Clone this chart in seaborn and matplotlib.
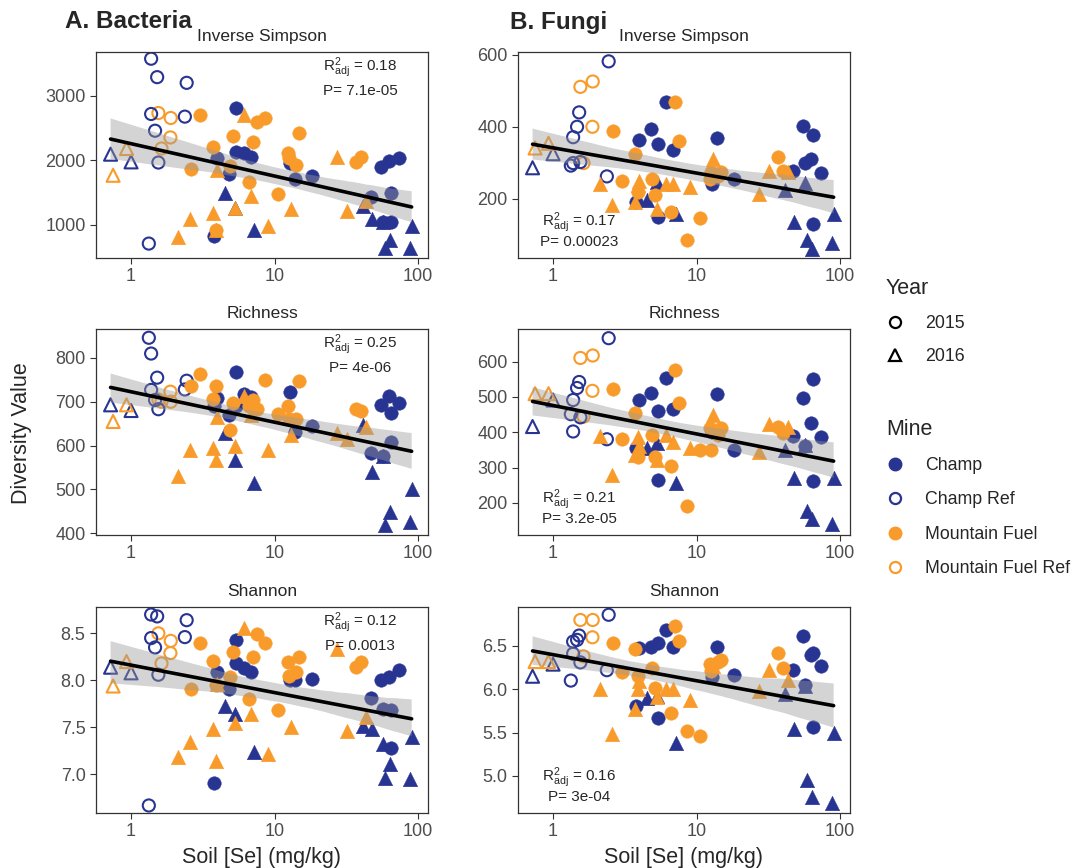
import numpy as np
import pandas as pd
import matplotlib
matplotlib.use('Agg')
import matplotlib.pyplot as plt
import seaborn as sns
from matplotlib.lines import Line2D
from matplotlib.ticker import FixedLocator, NullLocator

sns.set_style('white')
plt.rcParams['font.family'] = ['Liberation Sans', 'DejaVu Sans']
plt.rcParams['mathtext.fontset'] = 'custom'
plt.rcParams['mathtext.rm'] = 'Liberation Sans'
plt.rcParams['mathtext.it'] = 'Liberation Sans:italic'

# --- DATA ---
mine = (['Champ Ref'] * 2 + ['Mountain Fuel Ref'] * 2 + ['Mountain Fuel Ref'] * 4 + ['Champ Ref'] * 8
        + ['Champ'] * 17 + ['Champ'] * 10 + ['Mountain Fuel'] * 17 + ['Mountain Fuel'] * 13)
year = (['2016'] * 2 + ['2016'] * 2 + ['2015'] * 4 + ['2015'] * 8
        + ['2015'] * 17 + ['2016'] * 10 + ['2015'] * 17 + ['2016'] * 13)

se = [0.72, 1.0, 0.75, 0.93, 1.55, 1.63, 1.88, 1.89, 1.33, 1.38, 1.38, 1.47, 1.52, 1.55, 2.37, 2.44,
      3.8, 3.95, 4.83, 5.35, 5.35, 6.1, 6.85, 12.8, 13.8, 18.1, 47, 55, 57, 63, 65, 65, 73,
      4.5, 5.3, 7.2, 41, 48, 57, 59, 64, 87, 90,
      2.6, 3.02, 3.7, 3.9, 4.9, 5.1, 6.6, 7.1, 7.56, 8.6, 10.6, 12.3, 12.6, 14.2, 14.8, 37, 40.2,
      2.13, 2.57, 3.7, 3.9, 3.95, 5.3, 6.1, 6.9, 9.0, 12.9, 27.4, 32, 43.6]

bac_invsimp = [2093, 1974, 1767, 2181, 2730, 2181, 2352, 2653, 710, 3570, 2715, 2456, 3285, 1964, 2674, 3197,
               824, 2041, 1782, 2808, 2130, 2109, 2057, 1964, 1715, 1756, 1435, 1902, 1041, 1990, 1487, 1041, 2041,
               1487, 1264, 927, 1290, 1083, 1041, 642, 772, 642, 979,
               1870, 2700, 2212, 917, 1912, 2368, 1663, 2275, 2596, 2648, 1471, 2119, 2041, 1922, 2415, 1974, 2057,
               813, 1093, 1176, 917, 1850, 1264, 2700, 1446, 979, 1238, 2057, 1212, 1368]
bac_rich = [693, 680, 655, 693, 705, 700, 723, 700, 846, 810, 727, 704, 755, 683, 728, 748,
            690, 708, 670, 768, 690, 718, 710, 723, 632, 645, 583, 693, 576, 712, 675, 608, 698,
            629, 568, 514, 648, 540, 576, 419, 449, 425, 502,
            736, 763, 706, 736, 636, 697, 690, 704, 683, 750, 672, 690, 660, 660, 748, 683, 678,
            530, 589, 595, 568, 666, 598, 712, 670, 589, 625, 629, 614, 642]
bac_shannon = [8.14, 8.08, 7.94, 8.20, 8.50, 8.18, 8.29, 8.42, 6.67, 8.70, 8.45, 8.35, 8.68, 8.06, 8.46, 8.64,
               6.91, 8.09, 7.91, 8.43, 8.18, 8.13, 8.09, 8.00, 8.00, 8.01, 7.81, 8.00, 7.70, 8.04, 7.68, 7.28, 8.11,
               7.73, 7.64, 7.24, 7.51, 7.48, 7.32, 6.96, 7.11, 6.95, 7.40,
               7.91, 8.40, 8.21, 7.95, 8.04, 8.30, 7.80, 8.25, 8.49, 8.40, 7.68, 8.19, 8.05, 8.09, 8.25, 8.14, 8.19,
               7.19, 7.35, 7.48, 7.14, 7.96, 7.55, 8.56, 7.64, 7.22, 7.50, 8.33, 7.46, 7.61]
fun_invsimp = [286, 325, 341, 354, 511, 299, 400, 526, 292, 371, 299, 400, 440, 302, 262, 582,
               190, 364, 394, 351, 149, 468, 336, 240, 369, 255, 276, 403, 300, 311, 378, 129, 271,
               195, 246, 158, 223, 135, 243, 84, 61, 77, 158,
               389, 250, 325, 218, 255, 209, 163, 468, 360, 86, 145, 255, 274, 262, 274, 317, 277,
               242, 182, 191, 237, 250, 172, 242, 242, 232, 311, 214, 278, 274]
fun_rich = [416, 491, 509, 509, 610, 444, 517, 617, 451, 491, 402, 525, 542, 442, 380, 666,
            355, 491, 511, 461, 265, 554, 467, 400, 509, 350, 390, 498, 360, 427, 551, 262, 386,
            355, 369, 257, 350, 271, 364, 178, 154, 140, 271,
            523, 380, 453, 330, 393, 330, 304, 577, 483, 190, 349, 411, 349, 393, 411, 414, 397,
            390, 280, 334, 386, 360, 322, 393, 371, 355, 449, 343, 423, 414]
fun_shannon = [6.15, 6.29, 6.32, 6.32, 6.80, 6.38, 6.60, 6.80, 6.10, 6.55, 6.41, 6.57, 6.62, 6.31, 6.22, 6.86,
               5.81, 6.48, 6.49, 6.53, 5.67, 6.69, 6.49, 6.14, 6.49, 6.16, 6.22, 6.61, 6.05, 6.39, 6.42, 5.56, 6.27,
               5.90, 5.92, 5.38, 5.95, 5.54, 6.04, 4.95, 4.76, 4.68, 5.50,
               6.53, 6.20, 6.46, 6.15, 6.25, 6.01, 5.73, 6.73, 6.56, 5.52, 5.46, 6.29, 6.21, 6.31, 6.34, 6.42, 6.24,
               6.00, 5.48, 5.77, 6.00, 6.10, 5.91, 6.00, 6.00, 5.87, 6.27, 5.98, 6.22, 6.11]

stats_r2 = ['0.18', '0.25', '0.12', '0.17', '0.21', '0.16']
stats_p = ['7.1e-05', '4e-06', '0.0013', '0.00023', '3.2e-05', '3e-04']

df = pd.DataFrame({'se': se, 'mine': mine, 'year': year,
                   'bac_invsimp': bac_invsimp, 'bac_rich': bac_rich, 'bac_shannon': bac_shannon,
                   'fun_invsimp': fun_invsimp, 'fun_rich': fun_rich, 'fun_shannon': fun_shannon})

# --- STYLE ---
navy = '#283492'
orange = '#F99B2A'
mine_colors = {'Champ': navy, 'Champ Ref': navy, 'Mountain Fuel': orange, 'Mountain Fuel Ref': orange}
open_mines = ['Champ Ref', 'Mountain Fuel Ref']
year_markers = {'2015': 'o', '2016': '^'}

W, H = 1073, 868
fig = plt.figure(figsize=(W / 100, H / 100), dpi=100)

col_left = [96, 518]
row_top = [52, 329, 607]
ax_w, ax_h = 332, 206

panels = [
    # col, row, column name, title, ylim, yticks
    (0, 0, 'bac_invsimp', 'Inverse Simpson', (487, 3674), [1000, 2000, 3000]),
    (0, 1, 'bac_rich', 'Richness', (396, 866), [400, 500, 600, 700, 800]),
    (0, 2, 'bac_shannon', 'Shannon', (6.59, 8.78), [7.0, 7.5, 8.0, 8.5]),
    (1, 0, 'fun_invsimp', 'Inverse Simpson', (35, 608), [200, 400, 600]),
    (1, 1, 'fun_rich', 'Richness', (109, 692), [200, 300, 400, 500, 600]),
    (1, 2, 'fun_shannon', 'Shannon', (4.57, 6.95), [5.0, 5.5, 6.0, 6.5]),
]

for i, (col, row, metric, title, ylim, yticks) in enumerate(panels):
    ax = fig.add_axes([col_left[col] / W, 1 - (row_top[row] + ax_h) / H, ax_w / W, ax_h / H])
    ax.set_xscale('log')

    # points, one group at a time (filled or open)
    for (m, yr), g in df.groupby(['mine', 'year'], sort=False):
        c = mine_colors[m]
        mk = year_markers[yr]
        size = 110 if mk == '^' else 95
        if m in open_mines:
            sns.scatterplot(data=g, x='se', y=metric, ax=ax, marker=mk, s=size * 0.8,
                            color=c, facecolor='none', edgecolor=c, linewidth=1.5)
        else:
            sns.scatterplot(data=g, x='se', y=metric, ax=ax, marker=mk, s=size,
                            color=c, edgecolor=c, linewidth=0.3)

    # linear fit on log10(Se) with confidence band drawn over the points
    sns.regplot(data=df, x='se', y=metric, ax=ax, logx=True, scatter=False, color='black',
                n_boot=1000, seed=7, line_kws={'linewidth': 2.6})
    band = ax.collections[-1]
    band.set_alpha(None)
    band.set_facecolor((0.6, 0.6, 0.6, 0.42))
    band.set_edgecolor('none')
    band.set_zorder(2.5)
    ax.lines[-1].set_zorder(3)

    ax.set_xlim(0.57, 117)
    ax.set_ylim(*ylim)
    ax.xaxis.set_major_locator(FixedLocator([1, 10, 100]))
    ax.xaxis.set_minor_locator(NullLocator())
    ax.set_xticklabels(['1', '10', '100'])
    ax.set_yticks(yticks)
    ax.set_xlabel('')
    ax.set_ylabel('')
    ax.set_title(title, fontsize=12.5, pad=8)
    for s in ax.spines.values():
        s.set_color('#333333')
        s.set_linewidth(0.9)
    ax.tick_params(direction='out', length=4, width=0.8, color='#333333',
                   labelsize=13, labelcolor='#4D4D4D', bottom=True, left=True)
    ax.grid(False)

    r2_txt = r'$\mathrm{R}^2_{\mathrm{adj}}$ = ' + stats_r2[i]
    p_txt = 'P= ' + stats_p[i]
    if col == 0:
        ax.text(0.795, 0.925, r2_txt, transform=ax.transAxes, ha='center', va='center', fontsize=11)
        ax.text(0.795, 0.81, p_txt, transform=ax.transAxes, ha='center', va='center', fontsize=11)
    else:
        ax.text(0.184, 0.172, r2_txt, transform=ax.transAxes, ha='center', va='center', fontsize=11)
        ax.text(0.184, 0.078, p_txt, transform=ax.transAxes, ha='center', va='center', fontsize=11)

# panel letters and shared labels
fig.text(65 / W, 1 - 22 / H, 'A. Bacteria', fontsize=17.5, fontweight='bold', va='center', ha='left')
fig.text(510 / W, 1 - 22 / H, 'B. Fungi', fontsize=17.5, fontweight='bold', va='center', ha='left')
fig.text(22 / W, 1 - 433 / H, 'Diversity Value', fontsize=15.5, rotation=90, va='center', ha='center')
fig.text(262 / W, 1 - 857 / H, 'Soil [Se] (mg/kg)', fontsize=15.5, va='center', ha='center')
fig.text(684 / W, 1 - 857 / H, 'Soil [Se] (mg/kg)', fontsize=15.5, va='center', ha='center')

# legends
year_handles = [Line2D([], [], ls='', marker=year_markers[y], markersize=8, markerfacecolor='none',
                       markeredgecolor='black', markeredgewidth=1.6) for y in ['2015', '2016']]
fig.legend(year_handles, ['2015', '2016'], title='Year', loc='upper left',
           bbox_to_anchor=(886 / W, 1 - 278 / H), frameon=False, alignment='left',
           fontsize=12.8, title_fontsize=15.5, handlelength=1.0, handletextpad=1.2,
           labelspacing=0.9, borderpad=0, borderaxespad=0)
mine_names = ['Champ', 'Champ Ref', 'Mountain Fuel', 'Mountain Fuel Ref']
mine_handles = []
for m in mine_names:
    c = mine_colors[m]
    if m in open_mines:
        mine_handles.append(Line2D([], [], ls='', marker='o', markersize=8, markerfacecolor='none',
                                   markeredgecolor=c, markeredgewidth=1.6))
    else:
        mine_handles.append(Line2D([], [], ls='', marker='o', markersize=9, markerfacecolor=c,
                                   markeredgecolor=c))
fig.legend(mine_handles, mine_names, title='Mine', loc='upper left',
           bbox_to_anchor=(886 / W, 1 - 419 / H), frameon=False, alignment='left',
           fontsize=12.8, title_fontsize=15.5, handlelength=1.0, handletextpad=1.2,
           labelspacing=0.97, borderpad=0, borderaxespad=0)

fig.savefig('out.png', dpi=100)
